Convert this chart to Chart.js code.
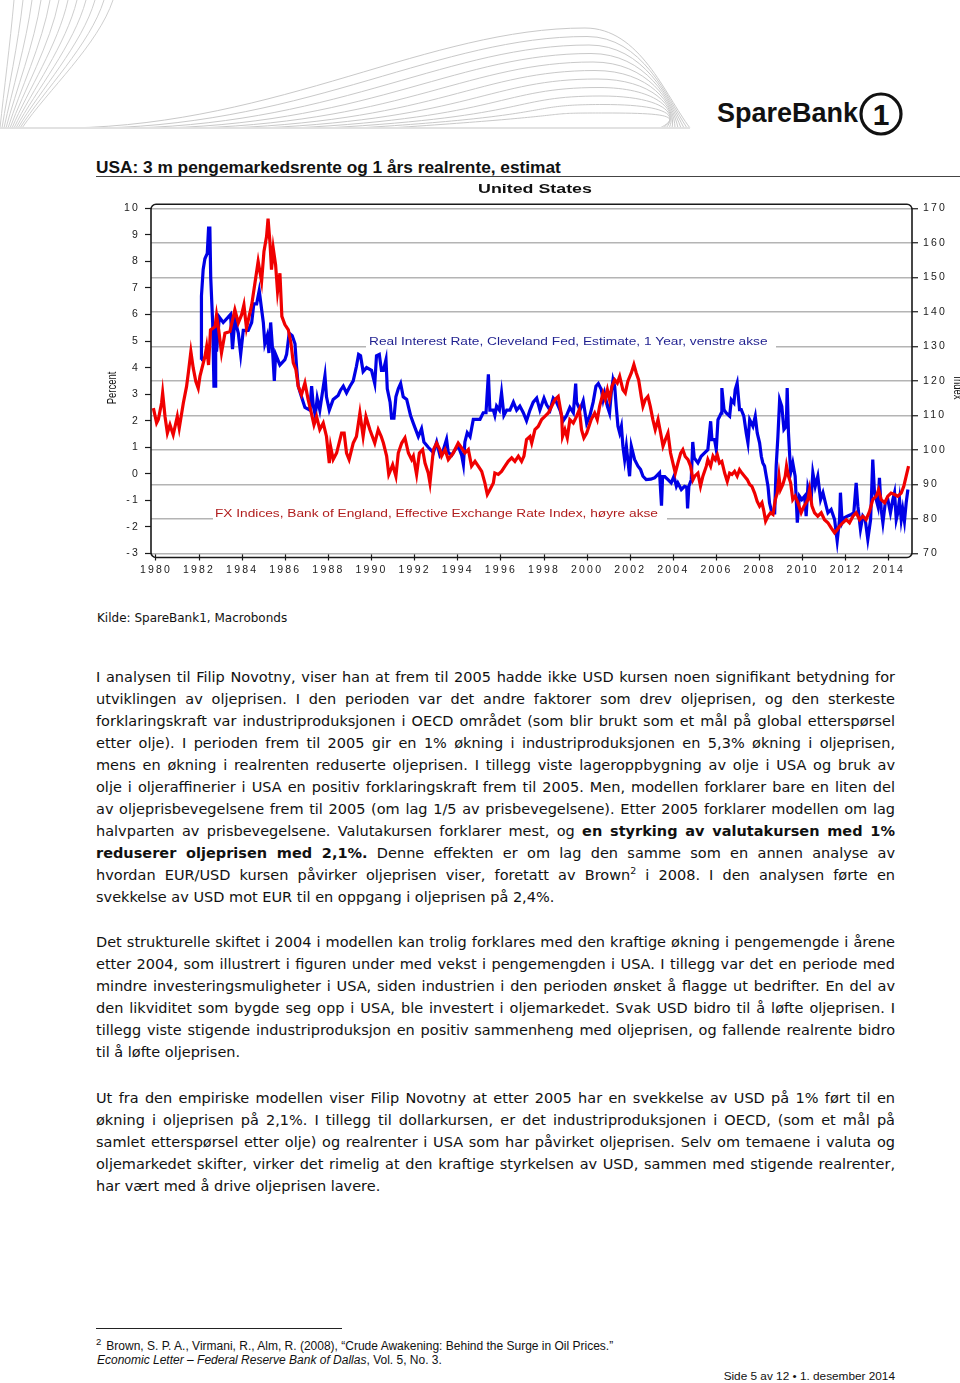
<!DOCTYPE html>
<html lang="no">
<head>
<meta charset="utf-8">
<title>USA: 3 m pengemarkedsrente og 1 års realrente, estimat</title>
<script src="https://cdn.jsdelivr.net/npm/chart.js@4.4.1/dist/chart.umd.min.js"></script>
<style>
  html, body { margin: 0; padding: 0; background: #fff; }
  body { width: 960px; height: 1383px; position: relative; overflow: hidden; color: #111; }
  #header { position: absolute; left: 0; top: 0; }
  .title { position: absolute; left: 96px; top: 157px; font: bold 17.3px "Liberation Sans", Arial, sans-serif; line-height: 20px; white-space: nowrap; }
  .rule { position: absolute; left: 96px; top: 176px; width: 864px; height: 1px; background: #444; }
  #chartWrap { position: absolute; left: 0; top: 180px; width: 960px; height: 420px; }
  .kilde { position: absolute; left: 97px; top: 610px; font: 12px "DejaVu Sans", Verdana, sans-serif; line-height: 16px; }
  .para { position: absolute; left: 96px; width: 799px; font: 14.5px "DejaVu Sans", Verdana, sans-serif; line-height: 22.1px; }
  .para div { height: 22.1px; white-space: nowrap; }
  .para span { display: inline-block; white-space: nowrap; }
  .para sup { font-size: 9.5px; vertical-align: 6px; line-height: 0; }
  .fnrule { position: absolute; left: 96px; top: 1328px; width: 246px; height: 1px; background: #222; }
  .fn { position: absolute; left: 97px; font: 12px "Liberation Sans", Arial, sans-serif; line-height: 14px; white-space: nowrap; }
  .fn sup { font-size: 9.5px; vertical-align: 5px; line-height: 0; margin-right: 5px; }
  .footer { position: absolute; right: 65px; top: 1369px; font: 11.8px "Liberation Sans", Arial, sans-serif; line-height: 14px; white-space: nowrap; }
</style>
</head>
<body>

<svg id="header" width="960" height="140" viewBox="0 0 960 140"></svg>

<div class="title">USA: 3 m pengemarkedsrente og 1 års realrente, estimat</div>
<div class="rule"></div>

<div id="chartWrap"><canvas id="chart" width="960" height="420"></canvas></div>

<div class="kilde">Kilde: SpareBank1, Macrobonds</div>

<div class="para" style="top:665.5px">
  <div><span class="jl">I analysen til Filip Novotny, viser han at frem til 2005 hadde ikke USD kursen noen signifikant betydning for</span></div>
  <div><span class="jl">utviklingen av oljeprisen. I den perioden var det andre faktorer som drev oljeprisen, og den sterkeste</span></div>
  <div><span class="jl">forklaringskraft var industriproduksjonen i OECD området (som blir brukt som et mål på global etterspørsel</span></div>
  <div><span class="jl">etter olje). I perioden frem til 2005 gir en 1% økning i industriproduksjonen en 5,3% økning i oljeprisen,</span></div>
  <div><span class="jl">mens en økning i realrenten reduserte oljeprisen. I tillegg viste lageroppbygning av olje i USA og bruk av</span></div>
  <div><span class="jl">olje i oljeraffinerier i USA en positiv forklaringskraft frem til 2005. Men, modellen forklarer bare en liten del</span></div>
  <div><span class="jl">av oljeprisbevegelsene frem til 2005 (om lag 1/5 av prisbevegelsene). Etter 2005 forklarer modellen om lag</span></div>
  <div><span class="jl">halvparten av prisbevegelsene. Valutakursen forklarer mest, og <b>en styrking av valutakursen med 1%</b></span></div>
  <div><span class="jl"><b>reduserer oljeprisen med 2,1%.</b> Denne effekten er om lag den samme som en annen analyse av</span></div>
  <div><span class="jl">hvordan EUR/USD kursen påvirker oljeprisen viser, foretatt av Brown<sup>2</sup> i 2008. I den analysen førte en</span></div>
  <div><span>svekkelse av USD mot EUR til en oppgang i oljeprisen på 2,4%.</span></div>
</div>

<div class="para" style="top:930.5px">
  <div><span class="jl">Det strukturelle skiftet i 2004 i modellen kan trolig forklares med den kraftige økning i pengemengde i årene</span></div>
  <div><span class="jl">etter 2004, som illustrert i figuren under med vekst i pengemengden i USA. I tillegg var det en periode med</span></div>
  <div><span class="jl">mindre investeringsmuligheter i USA, siden industrien i den perioden ønsket å flagge ut bedrifter. En del av</span></div>
  <div><span class="jl">den likviditet som bygde seg opp i USA, ble investert i oljemarkedet. Svak USD bidro til å løfte oljeprisen. I</span></div>
  <div><span class="jl">tillegg viste stigende industriproduksjon en positiv sammenheng med oljeprisen, og fallende realrente bidro</span></div>
  <div><span>til å løfte oljeprisen.</span></div>
</div>

<div class="para" style="top:1086.5px">
  <div><span class="jl">Ut fra den empiriske modellen viser Filip Novotny at etter 2005 har en svekkelse av USD på 1% ført til en</span></div>
  <div><span class="jl">økning i oljeprisen på 2,1%. I tillegg til dollarkursen, er det industriproduksjonen i OECD, (som et mål på</span></div>
  <div><span class="jl">samlet etterspørsel etter olje) og realrenter i USA som har påvirket oljeprisen. Selv om temaene i valuta og</span></div>
  <div><span class="jl">oljemarkedet skifter, virker det rimelig at den kraftige styrkelsen av USD, sammen med stigende realrenter,</span></div>
  <div><span>har vært med å drive oljeprisen lavere.</span></div>
</div>

<div class="fnrule"></div>
<div class="fn" style="top:1339px; left:96px"><sup>2</sup>Brown, S. P. A., Virmani, R., Alm, R. (2008), “Crude Awakening: Behind the Surge in Oil Prices.”</div>
<div class="fn" style="top:1353px"><i>Economic Letter – Federal Reserve Bank of Dallas</i>, Vol. 5, No. 3.</div>
<div class="footer">Side 5 av 12 • 1. desember 2014</div>

<script>
// Real Interest Rate, Cleveland Fed, 1 Year (percent, left axis)
const realRateYears = [
  1982.09, 1982.11, 1982.19, 1982.27, 1982.38, 1982.44, 1982.50, 1982.54, 1982.63, 1982.69,
  1982.74, 1982.77, 1982.81, 1982.94, 1983.12, 1983.35, 1983.46, 1983.55, 1983.66, 1983.82,
  1983.93, 1984.05, 1984.28, 1984.44, 1984.54, 1984.67, 1984.79, 1984.90, 1984.98, 1985.05,
  1985.16, 1985.24, 1985.32, 1985.39, 1985.49, 1985.55, 1985.75, 1985.98, 1986.06, 1986.18,
  1986.32, 1986.45, 1986.52, 1986.60, 1986.75, 1986.91, 1987.14, 1987.22, 1987.30, 1987.39,
  1987.48, 1987.60, 1987.84, 1987.91, 1988.04, 1988.22, 1988.45, 1988.56, 1988.69, 1988.84,
  1989.00, 1989.15, 1989.30, 1989.40, 1989.49, 1989.61, 1989.77, 1990.00, 1990.15, 1990.23,
  1990.36, 1990.46, 1990.55, 1990.67, 1990.73, 1990.86, 1990.93, 1991.04, 1991.13, 1991.24,
  1991.35, 1991.47, 1991.63, 1991.81, 1991.94, 1992.17, 1992.32, 1992.43, 1992.63, 1992.87,
  1993.02, 1993.17, 1993.33, 1993.48, 1993.56, 1993.72, 1993.87, 1994.02, 1994.18, 1994.26,
  1994.33, 1994.44, 1994.57, 1994.72, 1995.03, 1995.18, 1995.31, 1995.42, 1995.49, 1995.65,
  1995.72, 1995.80, 1995.93, 1996.03, 1996.14, 1996.27, 1996.42, 1996.58, 1996.73, 1996.88,
  1997.04, 1997.19, 1997.35, 1997.50, 1997.66, 1997.81, 1998.00, 1998.12, 1998.28, 1998.43,
  1998.58, 1998.74, 1998.89, 1999.05, 1999.20, 1999.36, 1999.47, 1999.51, 1999.67, 1999.82,
  1999.98, 2000.13, 2000.28, 2000.41, 2000.52, 2000.66, 2000.74, 2000.81, 2000.94, 2001.04,
  2001.12, 2001.20, 2001.28, 2001.35, 2001.43, 2001.51, 2001.59, 2001.66, 2001.74, 2001.82,
  2001.97, 2002.05, 2002.20, 2002.36, 2002.48, 2002.59, 2002.74, 2002.95, 2003.13, 2003.36,
  2003.45, 2003.50, 2003.60, 2003.75, 2003.90, 2004.03, 2004.14, 2004.21, 2004.37, 2004.52,
  2004.62, 2004.66, 2004.72, 2004.83, 2004.90, 2004.97, 2005.14, 2005.29, 2005.45, 2005.60,
  2005.73, 2005.79, 2005.91, 2005.99, 2006.07, 2006.15, 2006.22, 2006.25, 2006.35, 2006.45,
  2006.61, 2006.69, 2006.81, 2006.87, 2006.96, 2007.07, 2007.15, 2007.27, 2007.38, 2007.46,
  2007.54, 2007.69, 2007.80, 2007.89, 2008.00, 2008.08, 2008.15, 2008.23, 2008.31, 2008.39,
  2008.46, 2008.57, 2008.70, 2008.77, 2008.85, 2008.93, 2009.03, 2009.13, 2009.24, 2009.28,
  2009.34, 2009.44, 2009.54, 2009.65, 2009.75, 2009.85, 2009.96, 2010.09, 2010.16, 2010.24,
  2010.39, 2010.47, 2010.58, 2010.70, 2010.83, 2010.94, 2011.09, 2011.17, 2011.32, 2011.48,
  2011.60, 2011.71, 2011.75, 2011.83, 2011.94, 2012.09, 2012.25, 2012.37, 2012.48, 2012.56,
  2012.68, 2012.79, 2012.90, 2013.02, 2013.15, 2013.25, 2013.33, 2013.41, 2013.49, 2013.56,
  2013.64, 2013.72, 2013.83, 2013.95, 2014.07, 2014.18, 2014.26, 2014.34, 2014.41, 2014.49,
  2014.57, 2014.64, 2014.72, 2014.80, 2014.88
];
const realRateValues = [
  4.3, 6.7, 7.7, 8.1, 8.3, 9.25, 9.25, 7.4, 5.7, 3.3,
  3.3, 5.7, 4.6, 5.9, 5.7, 5.9, 6.0, 4.7, 5.8, 5.3,
  4.5, 5.4, 5.4, 5.7, 6.4, 6.4, 6.9, 6.2, 5.7, 4.9,
  5.2, 4.55, 5.7, 4.9, 3.5, 4.5, 4.1, 4.3, 4.5, 5.3,
  5.2, 4.9, 4.05, 3.3, 2.9, 2.5, 2.4, 3.3, 2.55, 2.2,
  2.85, 2.4, 3.7, 2.9, 2.4, 2.8, 2.95, 3.15, 3.3, 3.05,
  3.3, 3.5, 4.05, 4.5, 4.45, 3.85, 4.0, 3.9, 3.4, 4.45,
  4.5, 3.9, 3.9, 4.3, 3.2, 2.7, 2.1, 2.1, 2.9, 3.2,
  3.4, 2.9, 2.8, 2.2, 1.9, 1.4, 1.7, 1.2, 1.0, 0.8,
  1.2, 0.7, 0.9, 1.3, 0.8, 0.7, 0.9, 1.05, 0.7, 0.35,
  1.2, 1.55, 1.4, 2.05, 2.05, 2.3, 2.3, 3.75, 2.4, 2.4,
  2.2, 2.55, 2.4, 3.05, 2.2, 2.4, 2.4, 2.7, 2.4, 2.55,
  2.3, 2.0, 2.4, 2.7, 2.85, 2.4, 2.85, 2.6, 2.4, 2.85,
  2.7, 2.4, 2.0, 2.2, 2.5, 2.3, 3.4, 2.7, 2.4, 2.75,
  1.9, 2.2, 2.7, 3.3, 3.4, 3.17, 2.79, 3.04, 2.54, 2.29,
  3.04, 3.54, 3.29, 2.54, 1.79, 1.54, 1.79, 1.04, 0.54, 1.04,
  -0.09, 1.04, 0.54, 0.29, 0.16, -0.09, -0.22, -0.2, -0.15, 0.04,
  -1.2, -0.1, -0.1, -0.22, -0.34, -0.09, -0.47, -0.34, -0.59, -0.47,
  -0.5, -1.3, -0.47, -0.22, 1.2, 0.6, 0.41, 0.66, 0.79, 0.91,
  1.98, 1.29, 1.29, 0.91, 2.04, 2.17, 2.29, 3.23, 2.42, 2.29,
  2.17, 2.79, 2.67, 3.17, 3.42, 2.42, 2.42, 2.17, 1.54, 1.17,
  2.04, 1.79, 2.17, 1.54, 1.17, 0.66, 0.41, 0.29, -0.09, -0.47,
  -1.09, -1.47, -1.47, 0.29, 1.41, 2.79, 2.54, 1.67, 1.79, 3.23,
  1.54, 0.04, 0.41, -0.09, -1.84, -0.84, -0.97, -0.84, -1.59, -0.5,
  -0.97, 0.04, -0.47, -0.09, -0.97, -0.71, -1.22, -1.47, -1.34, -1.72,
  -2.53, -1.72, -0.71, -1.84, -1.65, -1.59, -1.53, -1.47, -0.34, -1.22,
  -2.09, -1.59, -1.72, -2.47, -1.72, 0.54, -0.71, -0.97, -1.22, -0.15,
  -1.34, -1.84, -1.09, -0.97, -1.47, -0.97, -0.71, -1.72, -1.47, -0.97,
  -1.72, -1.34, -1.78, -1.09, -0.59
];

// FX Indices, Bank of England, Effective Exchange Rate Index (right axis)
const fxYears = [
  1979.88, 1980.03, 1980.11, 1980.26, 1980.31, 1980.42, 1980.53, 1980.65, 1980.80, 1980.99,
  1981.08, 1981.27, 1981.42, 1981.51, 1981.62, 1981.73, 1981.85, 1981.96, 1982.04, 1982.27,
  1982.35, 1982.44, 1982.53, 1982.74, 1982.81, 1982.91, 1983.04, 1983.20, 1983.43, 1983.66,
  1983.82, 1983.97, 1984.08, 1984.20, 1984.44, 1984.59, 1984.74, 1984.90, 1985.01, 1985.13,
  1985.20, 1985.29, 1985.36, 1985.44, 1985.55, 1985.64, 1985.75, 1985.84, 1985.98, 1986.14,
  1986.26, 1986.37, 1986.49, 1986.60, 1986.75, 1986.91, 1987.06, 1987.19, 1987.33, 1987.45,
  1987.60, 1987.76, 1987.91, 1988.04, 1988.10, 1988.22, 1988.38, 1988.61, 1988.73, 1988.84,
  1988.96, 1989.15, 1989.30, 1989.46, 1989.61, 1989.74, 1989.92, 1990.15, 1990.31, 1990.45,
  1990.55, 1990.70, 1990.80, 1990.86, 1990.98, 1991.13, 1991.24, 1991.40, 1991.55, 1991.71,
  1991.86, 1991.94, 1992.09, 1992.22, 1992.37, 1992.48, 1992.63, 1992.71, 1992.87, 1993.02,
  1993.17, 1993.25, 1993.41, 1993.56, 1993.79, 1994.02, 1994.18, 1994.33, 1994.49, 1994.64,
  1994.80, 1994.95, 1995.11, 1995.26, 1995.37, 1995.49, 1995.65, 1995.72, 1995.88, 1996.03,
  1996.19, 1996.34, 1996.50, 1996.65, 1996.81, 1996.96, 1997.07, 1997.19, 1997.35, 1997.43,
  1997.58, 1997.73, 1997.89, 1998.04, 1998.20, 1998.35, 1998.51, 1998.66, 1998.82, 1998.86,
  1998.97, 1999.08, 1999.20, 1999.36, 1999.51, 1999.64, 1999.74, 1999.85, 1999.98, 2000.19,
  2000.35, 2000.47, 2000.58, 2000.74, 2000.84, 2000.94, 2001.04, 2001.15, 2001.28, 2001.40,
  2001.51, 2001.66, 2001.77, 2001.89, 2002.05, 2002.17, 2002.28, 2002.39, 2002.51, 2002.59,
  2002.70, 2002.82, 2002.93, 2003.05, 2003.16, 2003.29, 2003.41, 2003.52, 2003.63, 2003.75,
  2003.87, 2003.98, 2004.09, 2004.21, 2004.34, 2004.44, 2004.55, 2004.68, 2004.80, 2004.91,
  2004.99, 2005.14, 2005.26, 2005.37, 2005.53, 2005.60, 2005.73, 2005.84, 2005.94, 2006.04,
  2006.14, 2006.25, 2006.38, 2006.50, 2006.61, 2006.72, 2006.84, 2006.96, 2007.07, 2007.18,
  2007.30, 2007.43, 2007.54, 2007.64, 2007.77, 2007.89, 2008.00, 2008.11, 2008.20, 2008.28,
  2008.39, 2008.51, 2008.62, 2008.73, 2008.82, 2008.90, 2008.97, 2009.08, 2009.19, 2009.25,
  2009.34, 2009.44, 2009.54, 2009.65, 2009.78, 2009.93, 2010.06, 2010.16, 2010.24, 2010.32,
  2010.43, 2010.55, 2010.70, 2010.86, 2011.01, 2011.17, 2011.32, 2011.48, 2011.60, 2011.71,
  2011.86, 2012.02, 2012.17, 2012.33, 2012.48, 2012.64, 2012.79, 2012.94, 2013.10, 2013.25,
  2013.41, 2013.52, 2013.64, 2013.80, 2013.95, 2014.10, 2014.26, 2014.41, 2014.57, 2014.69,
  2014.80, 2014.91
];
const fxValues = [
  112.1, 107.8, 108.8, 113.6, 116.5, 109.7, 104.9, 107.3, 104.4, 109.7,
  106.3, 113.6, 118.4, 122.7, 128.5, 123.7, 119.8, 117.9, 121.3, 127.0,
  129.9, 124.6, 134.8, 135.7, 139.1, 134.8, 128.1, 133.8, 134.3, 140.6,
  136.8, 139.1, 142.0, 135.3, 142.0, 148.3, 154.6, 148.8, 157.5, 161.8,
  167.0, 159.9, 152.2, 158.4, 153.6, 145.9, 151.2, 138.7, 136.3, 134.8,
  131.0, 125.2, 123.3, 118.4, 116.0, 119.4, 114.6, 111.2, 107.3, 109.7,
  105.9, 107.8, 103.9, 96.2, 101.0, 97.2, 99.1, 104.9, 104.9, 99.1,
  97.2, 102.0, 103.9, 110.7, 103.9, 109.7, 105.9, 102.0, 105.9, 103.9,
  102.0, 98.2, 92.9, 93.8, 95.7, 92.4, 99.1, 102.0, 103.5, 99.1,
  97.2, 98.2, 92.9, 99.1, 100.1, 96.2, 93.3, 90.4, 100.1, 102.0,
  100.1, 98.2, 100.1, 97.2, 99.1, 102.0, 100.6, 99.1, 100.1, 95.3,
  96.7, 95.3, 93.8, 90.4, 87.1, 88.5, 90.4, 93.3, 92.9, 93.8,
  95.3, 96.7, 97.7, 96.7, 98.2, 96.7, 98.2, 103.0, 103.9, 102.0,
  105.9, 106.8, 108.8, 109.7, 110.7, 112.6, 114.6, 115.5, 109.7, 103.9,
  105.9, 103.5, 108.8, 107.8, 109.7, 111.7, 105.9, 103.5, 104.9, 108.8,
  110.7, 108.8, 112.6, 116.5, 114.6, 117.4, 114.6, 118.4, 120.3, 119.4,
  121.3, 117.4, 116.5, 119.9, 122.3, 124.7, 122.3, 120.3, 115.5, 112.6,
  114.6, 115.5, 112.6, 108.8, 105.9, 108.8, 104.9, 101.1, 103.0, 104.9,
  99.1, 96.2, 93.3, 96.2, 99.1, 100.1, 98.1, 97.2, 95.3, 91.4,
  92.4, 93.3, 89.5, 92.4, 95.3, 97.2, 95.3, 98.2, 97.2, 98.6,
  96.2, 96.7, 93.3, 90.9, 93.3, 92.9, 93.8, 92.4, 94.3, 93.3,
  92.4, 91.4, 90.0, 89.5, 87.5, 85.1, 83.7, 84.7, 82.2, 79.4,
  80.8, 81.8, 81.3, 85.6, 87.5, 92.4, 88.5, 90.0, 92.4, 95.3,
  92.4, 90.5, 85.6, 86.6, 84.7, 81.8, 83.7, 84.7, 85.6, 88.5,
  83.7, 81.8, 80.8, 81.8, 79.8, 78.9, 77.4, 76.0, 76.9, 77.9,
  78.9, 79.8, 78.9, 80.8, 81.8, 79.8, 80.8, 79.8, 82.2, 85.6,
  86.6, 88.5, 85.6, 84.7, 86.6, 87.5, 87.1, 86.6, 87.5, 89.5,
  92.4, 95.3
];

const xTickYears = [1980, 1982, 1984, 1986, 1988, 1990, 1992, 1994, 1996, 1998,
  2000, 2002, 2004, 2006, 2008, 2010, 2012, 2014];
const percentRange = [-3, 10];
const indexRange = [70, 170];
const yearRange = [1979.77, 2015.07];

const chartTitle = "United States";
const realRateLabel = "Real Interest Rate, Cleveland Fed, Estimate, 1 Year, venstre akse";
const fxLabel = "FX Indices, Bank of England, Effective Exchange Rate Index, høyre akse";

const FONT = "'Liberation Sans', Arial, Helvetica, sans-serif";
const STRETCH = 1.37;

// header graphic
(() => {
  const svg = document.getElementById("header");
  const ns = "http://www.w3.org/2000/svg";
  const add = (tag, attrs, text) => {
    const el = document.createElementNS(ns, tag);
    Object.entries(attrs).forEach(([k, v]) => el.setAttribute(k, v));
    if (text) el.textContent = text;
    svg.appendChild(el);
    return el;
  };
  for (let j = 0; j < 12; j++) {
    add("path", {
      d: `M${14 + j * 9},0 C${10 + j * 8},45 ${4 + j * 4},90 ${j * 2},128`,
      fill: "none", stroke: "#cfcfcf", "stroke-width": 1
    });
  }
  for (let i = 0; i < 11; i++) {
    const sx = 70 + i * 32;
    const py = 28 + i * 8.5;
    const px = 585 + i * 2;
    add("path", {
      d: `M${sx},128 C${sx + 210},${124 - i} ${430 + i * 10},${py} ${px},${py} C${px + 55},${py} ${px + 80},${95 + i * 2} ${690 - i * 3},128`,
      fill: "none", stroke: "#c9c9c9", "stroke-width": 1
    });
  }
  add("line", { x1: 0, y1: 128, x2: 690, y2: 128, stroke: "#e2e2e2", "stroke-width": 2 });
  add("text", { x: 717, y: 122, "font-family": FONT, "font-weight": "bold", "font-size": 27, fill: "#111" }, "SpareBank");
  add("circle", { cx: 881, cy: 114, r: 20, fill: "none", stroke: "#111", "stroke-width": 3.2 });
  add("text", { x: 881, y: 125, "font-family": FONT, "font-weight": "bold", "font-size": 30, fill: "#111", "text-anchor": "middle" }, "1");
})();

// body text justification, keeping the line breaks of the original
document.querySelectorAll(".jl").forEach(el => {
  const w = el.getBoundingClientRect().width;
  const spaces = (el.textContent.match(/ /g) || []).length;
  if (spaces) el.style.wordSpacing = ((799 - w) / spaces) + "px";
});

const drawStretched = (ctx, text, x, y, font, color, align, baseline) => {
  ctx.save();
  ctx.translate(x, y);
  ctx.scale(STRETCH, 1);
  ctx.letterSpacing = "0px";
  ctx.font = font;
  ctx.fillStyle = color;
  ctx.textAlign = align;
  ctx.textBaseline = baseline || "middle";
  ctx.fillText(text, 0, 0);
  ctx.restore();
};

const chartDecor = {
  id: "chartDecor",
  beforeDraw(chart) {
    chart.ctx.letterSpacing = "2.2px";
  },
  beforeDatasetsDraw(chart) {
    const { ctx } = chart;
    const yR = chart.scales.yRight;
    const yBlue = yR.getPixelForValue(130);
    const yRed = yR.getPixelForValue(80);
    ctx.save();
    ctx.fillStyle = "#fff";
    ctx.fillRect(366, yBlue - 10, 410, 12);
    ctx.fillRect(213, yRed - 10, 454, 12);
    ctx.restore();
    drawStretched(ctx, realRateLabel, 369, yBlue - 1.5, `10px ${FONT}`, "#1f1f8f", "left", "alphabetic");
    drawStretched(ctx, fxLabel, 215, yRed - 1.5, `10px ${FONT}`, "#b01c1c", "left", "alphabetic");
  },
  afterDraw(chart) {
    const { ctx, chartArea: a } = chart;
    ctx.save();
    ctx.strokeStyle = "#1a1a1a";
    ctx.lineWidth = 1.6;
    ctx.beginPath();
    ctx.roundRect(a.left, a.top - 4, a.right - a.left, a.bottom - a.top + 8, 5);
    ctx.stroke();
    ctx.restore();

    drawStretched(ctx, chartTitle, 535, 9, `bold 13px ${FONT}`, "#111", "center");

    ctx.save();
    ctx.letterSpacing = "0px";
    ctx.translate(112, (a.top + a.bottom) / 2 + 7);
    ctx.scale(STRETCH, 1);
    ctx.rotate(-Math.PI / 2);
    ctx.font = `9.5px ${FONT}`;
    ctx.fillStyle = "#111";
    ctx.textAlign = "center";
    ctx.textBaseline = "middle";
    ctx.fillText("Percent", 0, 0);
    ctx.restore();

    ctx.save();
    ctx.letterSpacing = "0px";
    ctx.translate(958, (a.top + a.bottom) / 2 + 7);
    ctx.scale(STRETCH, 1);
    ctx.rotate(Math.PI / 2);
    ctx.font = `9.5px ${FONT}`;
    ctx.fillStyle = "#111";
    ctx.textAlign = "center";
    ctx.textBaseline = "middle";
    ctx.fillText("Index", 0, 0);
    ctx.restore();
  }
};

const tickFont = { family: FONT, size: 10.5 };

new Chart(document.getElementById("chart").getContext("2d"), {
  type: "line",
  data: {
    datasets: [
      {
        label: fxLabel,
        data: fxYears.map((x, i) => ({ x, y: fxValues[i] })),
        yAxisID: "yRight",
        borderColor: "#f00000",
        borderWidth: 3.2,
        pointRadius: 0,
        tension: 0,
        fill: false
      },
      {
        label: realRateLabel,
        data: realRateYears.map((x, i) => ({ x, y: realRateValues[i] })),
        yAxisID: "yLeft",
        borderColor: "#0000e6",
        borderWidth: 3.2,
        pointRadius: 0,
        tension: 0,
        fill: false
      }
    ]
  },
  options: {
    responsive: false,
    animation: false,
    layout: { padding: { top: 28.3, left: 0, right: 0, bottom: 0 } },
    plugins: { legend: { display: false }, tooltip: { enabled: false } },
    scales: {
      x: {
        type: "linear",
        min: yearRange[0],
        max: yearRange[1],
        border: { display: false },
        grid: { display: true, drawOnChartArea: false, drawTicks: true, tickLength: 7, tickColor: "#1a1a1a", tickWidth: 1.2 },
        ticks: { font: tickFont, color: "#1a1a1a", padding: 3, maxRotation: 0, autoSkip: false, callback: v => String(v) },
        afterBuildTicks: s => { s.ticks = xTickYears.map(v => ({ value: v })); },
        afterFit: s => { s.height = 46.5; }
      },
      yLeft: {
        type: "linear",
        position: "left",
        min: percentRange[0],
        max: percentRange[1],
        border: { display: false },
        grid: { display: true, drawOnChartArea: false, drawTicks: true, tickLength: 6, tickColor: "#1a1a1a", tickWidth: 1.2 },
        ticks: { stepSize: 1, font: tickFont, color: "#1a1a1a", padding: 5 },
        afterFit: s => { s.width = 151; }
      },
      yRight: {
        type: "linear",
        position: "right",
        min: indexRange[0],
        max: indexRange[1],
        border: { display: false },
        grid: { color: "#b4b4b4", lineWidth: 1.5, drawTicks: true, tickLength: 6, tickColor: "#1a1a1a", tickWidth: 1.2 },
        ticks: { stepSize: 10, font: tickFont, color: "#1a1a1a", padding: 5 },
        afterFit: s => { s.width = 48; }
      }
    }
  },
  plugins: [chartDecor]
});
</script>
</body>
</html>
